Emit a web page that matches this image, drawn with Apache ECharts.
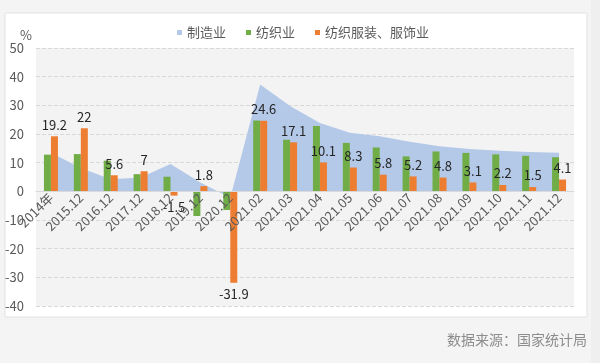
<!DOCTYPE html>
<html>
<head>
<meta charset="utf-8">
<script src="https://cdn.jsdelivr.net/npm/echarts@6/dist/echarts.min.js"></script>
<style>
  html, body { margin: 0; padding: 0; background: #f4f4f4; }
  #main { width: 600px; height: 363px; }
</style>
</head>
<body>
<div id="main"></div>
<script>
// 数据
var categories = ['2014年', '2015.12', '2016.12', '2017.12', '2018.12', '2019.12', '2020.12',
    '2021.02', '2021.03', '2021.04', '2021.05', '2021.06', '2021.07', '2021.08',
    '2021.09', '2021.10', '2021.11', '2021.12'];
var manufacturing = [13.5, 8.1, 4.2, 4.8, 9.5, 3.1, -2.2, 37.3, 29.8, 23.8, 20.4, 19.2, 17.3, 15.7, 14.8, 14.2, 13.7, 13.5];
var textile = [12.8, 13.0, 10.7, 6.0, 5.1, -8.6, -6.5, 24.7, 18.0, 22.8, 16.9, 15.3, 12.2, 13.9, 13.4, 12.9, 12.4, 11.9];
var apparel = [19.2, 22, 5.6, 7, -1.5, 1.8, -31.9, 24.6, 17.1, 10.1, 8.3, 5.8, 5.2, 4.8, 3.1, 2.2, 1.5, 4.1];
var yTicks = [-40, -30, -20, -10, 0, 10, 20, 30, 40, 50];

var FONT = 'Noto Sans CJK SC';
var GRID_TOP = 48, GRID_BOTTOM = 57, H = 363;

function apparelItems() {
    return apparel.map(function (v) {
        return {
            value: v,
            label: { position: v < 0 ? 'bottom' : 'top' }
        };
    });
}

// x轴放到0刻度处
var yMin = yTicks[0], yMax = yTicks[yTicks.length - 1];
var gridH = H - GRID_TOP - GRID_BOTTOM;
var zeroOffset = -gridH * (0 - yMin) / (yMax - yMin);

var chart = echarts.init(document.getElementById('main'));

var option = {
    backgroundColor: '#f4f4f4',
    textStyle: { fontFamily: FONT },
    animation: false,
    graphic: [
        {
            type: 'rect',
            z: -10,
            shape: { x: 5, y: 13, width: 582, height: 304 },
            style: { fill: '#ffffff', stroke: '#e2e2e2', lineWidth: 1 }
        },
        {
            type: 'rect',
            z: -10,
            shape: { x: 591, y: 0, width: 9, height: 363 },
            style: { fill: '#efefef' }
        },
        {
            type: 'text',
            left: 20,
            top: 29,
            style: { text: '%', fill: '#595959', font: '13px ' + FONT }
        },
        {
            type: 'text',
            right: 13,
            top: 333,
            style: { text: '数据来源：国家统计局', fill: '#8c8c8c', font: '14px ' + FONT }
        }
    ],
    legend: {
        left: 172,
        top: 21,
        itemWidth: 5,
        itemHeight: 5,
        itemGap: 20,
        textStyle: { color: '#595959', fontSize: 13, fontFamily: FONT },
        data: [
            { name: '制造业', icon: 'rect' },
            { name: '纺织业', icon: 'rect' },
            { name: '纺织服装、服饰业', icon: 'rect' }
        ]
    },
    grid: {
        left: 36,
        right: 26,
        top: GRID_TOP,
        bottom: GRID_BOTTOM,
        show: true,
        backgroundColor: '#f3f3f3',
        borderWidth: 0
    },
    xAxis: {
        type: 'category',
        data: categories,
        z: 5,
        offset: zeroOffset,
        axisLine: { onZero: false, lineStyle: { color: '#d9d9d9' } },
        axisTick: { show: false },
        axisLabel: {
            rotate: 45,
            interval: 0,
            margin: 4,
            color: '#595959',
            fontSize: 13,
            fontFamily: FONT
        }
    },
    yAxis: {
        type: 'value',
        min: yMin,
        max: yMax,
        interval: 10,
        axisLine: { show: false },
        axisTick: { show: false },
        axisLabel: { color: '#595959', fontSize: 13, margin: 12 },
        splitLine: { lineStyle: { color: '#d9d9d9', type: 'dashed' } }
    },
    series: [
        {
            name: '制造业',
            type: 'line',
            data: manufacturing,
            symbol: 'none',
            lineStyle: { width: 0 },
            itemStyle: { color: '#b4c8e8' },
            areaStyle: { color: '#b4c8e8', opacity: 1 },
            z: 1
        },
        {
            name: '纺织业',
            type: 'bar',
            data: textile,
            barWidth: 7,
            barGap: '0%',
            itemStyle: { color: '#70ad47' }
        },
        {
            name: '纺织服装、服饰业',
            type: 'bar',
            data: apparelItems(),
            barWidth: 7,
            itemStyle: { color: '#ed7d31' },
            label: {
                show: true,
                color: '#262626',
                fontSize: 13,
                distance: 5
            }
        }
    ]
};

chart.setOption(option);
</script>
</body>
</html>
